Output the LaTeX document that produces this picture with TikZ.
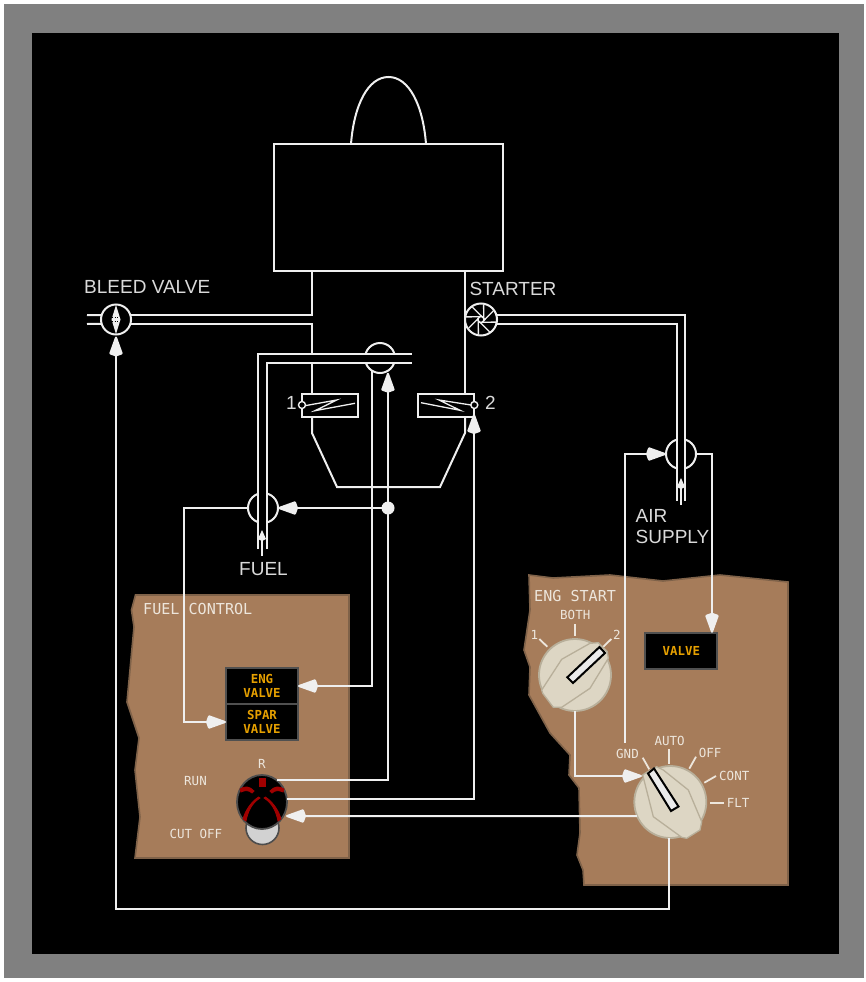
\documentclass[tikz,border=0pt]{standalone}
\usepackage{fontspec}
\setmainfont{Liberation Sans}
\newfontfamily\panelfnt{DejaVu Sans Mono}
\usepackage{xcolor}
\usetikzlibrary{shapes.geometric, arrows.meta, positioning, calc}

\definecolor{framegray}{HTML}{808080}
\definecolor{linewht}{HTML}{EFEFEF}
\definecolor{labelgray}{HTML}{DADADA}
\definecolor{panelbrn}{HTML}{A67C5A}
\definecolor{paneledge}{HTML}{7F6249}
\definecolor{paneltxt}{HTML}{EDE6DC}
\definecolor{lampedge}{HTML}{505050}
\definecolor{lamptxt}{HTML}{E6A000}
\definecolor{knobfill}{HTML}{DDD6C4}
\definecolor{knobedge}{HTML}{B8AF9A}
\definecolor{tglred}{HTML}{A00000}
\definecolor{tgledge}{HTML}{4D4D4D}
\definecolor{tglbody}{HTML}{D2D2D2}

\tikzset{
    wire/.style={draw=linewht, line width=2pt},
    thinwire/.style={draw=linewht, line width=1.3pt},
    kitetip/.style={-{Kite[length=22pt,width=14pt,inset=2.5pt,round]}},
    smalltip/.style={-{Kite[length=11pt,width=8pt,inset=2pt]}},
    valve/.style={circle, draw=linewht, line width=2pt, fill=black, inner sep=0pt, outer sep=0pt, minimum size=30pt},
    pin/.style={circle, draw=linewht, line width=1.4pt, fill=black, inner sep=0pt, outer sep=0pt, minimum size=7pt},
    switchbox/.style={rectangle, draw=linewht, line width=2pt, inner sep=0pt, outer sep=0pt, minimum width=56pt, minimum height=23pt},
    panel/.style={fill=panelbrn, draw=paneledge, line width=1.6pt},
    lamp/.style={rectangle, fill=black, draw=lampedge, line width=2pt, inner sep=0pt, outer sep=0pt, minimum width=72pt, minimum height=36pt,
        align=center, text=lamptxt, font=\panelfnt\bfseries\fontsize{12.4}{13.5}\selectfont},
    knob/.style={circle, fill=knobfill, draw=knobedge, line width=1.8pt, inner sep=0pt, outer sep=0pt, minimum size=72pt},
    knobcap/.style={fill=knobfill, draw=knobedge, line width=1.3pt, line join=round},
    knobbar/.style={fill=white!92!black, draw=black, line width=2pt},
    tick/.style={draw=paneltxt, line width=1.8pt},
    biglabel/.style={anchor=base west, inner sep=0pt, text=labelgray, font=\fontsize{19}{21}\selectfont},
    paneltitle/.style={anchor=base west, inner sep=0pt, text=paneltxt, font=\panelfnt\fontsize{15.1}{17}\selectfont},
    panellabel/.style={anchor=base west, inner sep=0pt, text=paneltxt, font=\panelfnt\fontsize{12.5}{14}\selectfont}
}

\begin{document}
\begin{tikzpicture}[x=1pt, y=-1pt]
    \useasboundingbox (0,0) rectangle (866,982);

    % Frame
    \fill[white] (0,0) rectangle (866,982);
    \fill[framegray] (4,4) rectangle (864,978);
    \fill[black] (32,33) rectangle (839,954);

    % Panels
    \draw[panel] (135.5,595) -- (349,595) -- (349,858) -- (135,858) -- (140,817) -- (135,770) -- (139,738)
        -- (127,702) -- (134,627) -- (131.5,610) -- cycle;
    \draw[panel] (529,575) -- (553,578) -- (610,575) -- (663,581) -- (720,575) -- (788,582) -- (788,885) -- (584,885)
        -- (583,870) -- (577,855) -- (580,833) -- (579,788) -- (569,775) -- (570,755) -- (550,733) -- (529,695)
        -- (530,667) -- (524,650) -- (530,610) -- cycle;

    % Engine
    \node[rectangle, wire, inner sep=0pt, outer sep=0pt, minimum width=229pt, minimum height=127pt] (engine) at (388.5,207.5) {};
    \draw[wire] (351,144) .. controls (354,105) and (368,77) .. (388.5,77) .. controls (409,77) and (423,105) .. (426,144);

    % Valves and starter
    \node[valve] (bleedvlv) at (116,319.5) {};
    \node[valve] (fuelvlv) at (263,508) {};
    \node[valve] (sparvlv) at (380,358) {};
    \node[valve] (airvlv) at (681,454) {};
    \node[valve, minimum size=32pt] (starter) at (481,319.5) {};
    \node[circle, fill=linewht, inner sep=0pt, outer sep=0pt, minimum size=13pt] (fueljct) at (388,508) {};

    % Switch boxes on the burner
    \node[switchbox] (swone) at (330,405.5) {};
    \node[switchbox] (swtwo) at (446,405.5) {};
    \node[pin] (pinone) at (302,405) {};
    \node[pin] (pintwo) at (474.3,405) {};
    \draw[thinwire] (305,405.7) -- (336.7,400) -- (315,410.7) -- (355,403.3);
    \draw[thinwire] (421,402.7) -- (460,410.3) -- (439,400) -- (471,405);

    % Lamps
    \node[lamp] (lampeng) at (262,686) {ENG\\VALVE};
    \node[lamp] (lampspar) at (262,722) {SPAR\\VALVE};
    \node[lamp, minimum height=36.5pt] (lampvlv) at (681.3,651) {VALVE};

    % Fuel lever
    \node[circle, fill=tglbody, draw=tgledge, line width=1.6pt, inner sep=0pt, outer sep=0pt, minimum size=33pt] (tglbase) at (262.5,828) {};
    \node[ellipse, fill=black, draw=tgledge, line width=1.8pt, inner sep=0pt, outer sep=0pt, minimum width=50pt, minimum height=54pt] (lever) at (262,802) {};
    \fill[tglred] (259,777.5) rectangle (265.5,787);
    \foreach \s in {1,-1} {
        \begin{scope}[shift={(262,0)}, xscale=\s]
            \filldraw[tglred, line width=0.8pt] (-22,789) .. controls (-18,786) and (-12,786) .. (-8,791) -- (-10,793)
                .. controls (-13,790) and (-17,790) .. (-21,792) -- cycle;
            \filldraw[tglred, line width=0.8pt] (-3.5,797) .. controls (-11,802) and (-17,811) .. (-19,819) -- (-16,821)
                .. controls (-14,811) and (-10,803) .. (-2,798) -- cycle;
        \end{scope}
    }

    % Knobs
    \node[knob] (knobstart) at (575,675) {};
    \node[knob] (knobmode) at (670.3,802) {};
    \draw[knobcap] (541.7,690) -- (561.7,659.3) -- (590,643.3) -- (598.3,642.7) -- (607.3,651.7) -- (608.3,658.3)
        -- (590,688.3) -- (561.7,707.3) -- (553.3,707.3) -- (542.7,693.3) -- cycle;
    \draw[knobbar] (567.3,677.3) -- (573,683) -- (605,653) -- (599.5,647) -- cycle;
    \draw[knobcap] (642.7,775) -- (653.3,816.7) -- (681.7,837.3) -- (686.7,838.3) -- (700,830) -- (701.7,821.7)
        -- (688.3,790) -- (663.3,770) -- (656.7,766.7) -- (645,773.3) -- cycle;
    \draw[knobbar] (648,773.5) -- (654,768.5) -- (678.5,806.5) -- (671,811) -- cycle;

    % Knob ticks
    \foreach \xa/\ya/\xb/\yb in {575/624/575/636, 539.3/639/547.3/646.7, 611.3/639/603.3/646.7,
        669/749.3/669/764, 642.7/757.7/649.3/769.3, 696/756.7/689.3/768.7, 716/776/704.3/782.7, 724/802.7/710/802.7}
        \draw[tick] (\xa,\ya) -- (\xb,\yb);

    % Free ends
    \coordinate (engtapl) at (312,271);
    \coordinate (engtapr) at (465,271);
    \coordinate (swtapl) at (312,394);
    \coordinate (swtapr) at (465,394);
    \coordinate (fuela) at (258,549);
    \coordinate (fuelb) at (267,549);
    \coordinate (fuelc) at (412,354);
    \coordinate (fueld) at (412,363);
    \coordinate (aira) at (685,500.5);
    \coordinate (airb) at (677,500.5);
    \coordinate (loopcnr) at (116,909);
    \coordinate (leverin) at (286,816);
    \coordinate (leverr) at (277,780);
    \coordinate (leverm) at (287,799);
    \coordinate (modein) at (642,776);
    \coordinate (gndend) at (625,743);
    \coordinate (lampin) at ($(lampvlv.north east)+(-5.3,0)$);
    \coordinate (bleedl) at (87,315);
    \coordinate (bleedm) at (87,324);

    % Bleed and starter air lines
    \fill[black] (677,324.5) rectangle (685,500);
    \draw[wire] (bleedl) -- (bleedvlv.163);
    \draw[wire] (bleedm) -- (bleedvlv.197);
    \draw[wire] (bleedvlv.17) -| (engtapl);
    \draw[wire] (bleedvlv.-17) -| (swtapl);
    \draw[wire] (engtapr) -- (swtapr);
    \draw[wire] (starter.17) -| (aira);
    \draw[wire] (starter.-17) -| (airb);

    % Burner
    \draw[wire] (312,417) -- (312,433) -- (337,487) -- (440,487) -- (465,433) -- (465,417);

    % Fuel pipe
    \fill[black] (fuela) -- (258,354) -- (fuelc) -- (fueld) -- (267,363) -- (fuelb) -- cycle;
    \draw[wire] (fuela) |- (fuelc);
    \draw[wire] (fuelb) |- (fueld);

    % Inlet arrows
    \draw[thinwire, fill=linewht, smalltip] (262,556) -- (262,530);
    \draw[thinwire, fill=linewht, smalltip] (681,505) -- (681,478);

    % Connectors
    \draw[wire, kitetip, linewht] (fueljct) -- (fuelvlv.east);
    \draw[wire, kitetip, linewht] (fuelvlv.west) -- (184,508) |- (lampspar.west);
    \draw[wire, kitetip, linewht] (sparvlv.-122) |- (lampeng.east);
    \draw[wire, kitetip, linewht, shorten >=2pt] (leverr) -| (sparvlv.-58);
    \draw[wire, kitetip, linewht] (leverm) -| ($(swtwo.south east)+(0,-3)$);
    \draw[wire, kitetip, linewht] (knobmode.203) -- (leverin);
    \draw[wire, kitetip, linewht, shorten >=2pt] (knobmode.-92) |- (loopcnr) -- (bleedvlv.south);
    \draw[wire, kitetip, linewht] (knobstart.south) |- (modein);
    \draw[wire, kitetip, linewht] (gndend) |- (airvlv.west);
    \draw[wire, kitetip, linewht] (airvlv.east) -| (lampin);

    % Bleed valve disc
    \fill[linewht] (116,305) -- (120.5,319.5) -- (116,334) -- (111.5,319.5) -- cycle;
    \draw[black, dotted, line width=0.7pt] (112,317.5) -- (120,317.5);
    \draw[black, dotted, line width=0.7pt] (112,321.5) -- (120,321.5);

    % Starter blades
    \foreach \a in {0,45,...,315}
        \draw[thinwire] ($(starter.center)+(\a-80:15)$) -- ($(starter.center)+(\a+36:3.4)$);

    % Diagram labels
    \node[biglabel] (lblbleed) at (84,293) {BLEED VALVE};
    \node[biglabel] (lblstarter) at (469.3,295) {STARTER};
    \node[biglabel] (lblone) at (286,409) {1};
    \node[biglabel] (lbltwo) at (485,409) {2};
    \node[biglabel] (lblfuel) at (239,575) {FUEL};
    \node[biglabel] (lblair) at (635.5,522.3) {AIR};
    \node[biglabel] (lblsupply) at (635.5,543.3) {SUPPLY};

    % Panel labels
    \node[paneltitle] (lblctrl) at (143,614) {FUEL CONTROL};
    \node[paneltitle] (lblstart) at (534,601) {ENG START};
    \node[panellabel] (lblboth) at (560,619) {BOTH};
    \node[panellabel] (lblpos) at (530.5,639) {1};
    \node[panellabel] (lblpostwo) at (613,639) {2};
    \node[panellabel] (lblgnd) at (616,758.3) {GND};
    \node[panellabel] (lblauto) at (654.3,745.7) {AUTO};
    \node[panellabel] (lbloff) at (698.7,757.3) {OFF};
    \node[panellabel] (lblcont) at (719,780.3) {CONT};
    \node[panellabel] (lblflt) at (726.7,807) {FLT};
    \node[panellabel] (lblr) at (258,768.3) {R};
    \node[panellabel] (lblrun) at (184,785) {RUN};
    \node[panellabel] (lblcut) at (169.3,838.3) {CUT OFF};
\end{tikzpicture}
\end{document}
